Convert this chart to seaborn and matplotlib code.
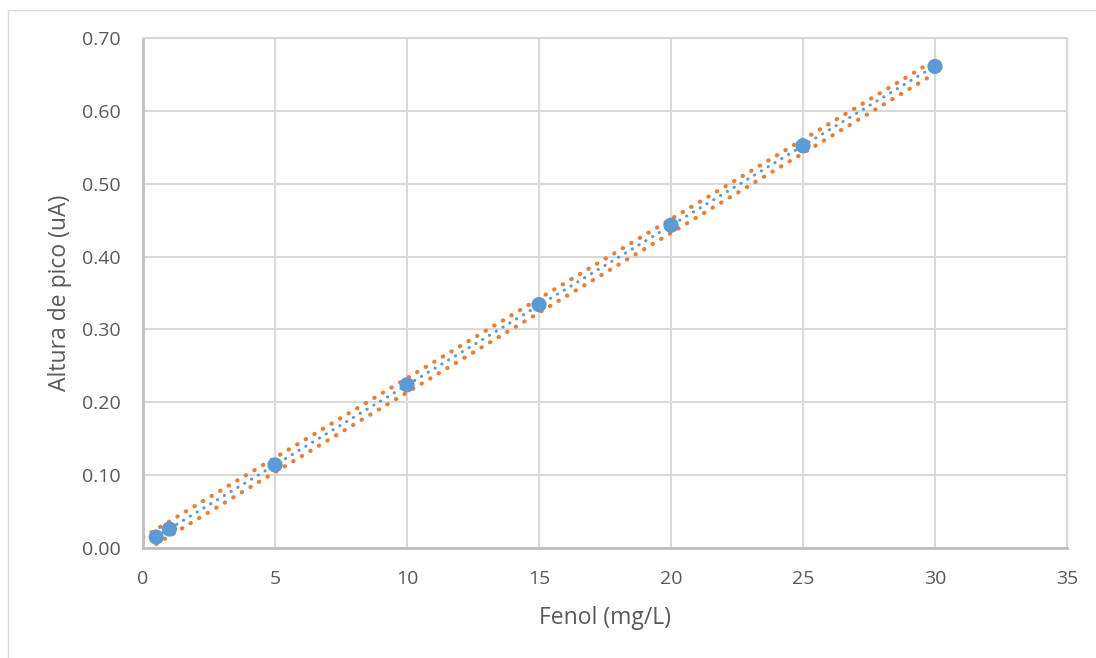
import numpy as np
import pandas as pd
import matplotlib
matplotlib.use("Agg")
import matplotlib.pyplot as plt
import seaborn as sns
from matplotlib.patches import Rectangle

# ── datos ──────────────────────────────────────────────────────────────
conc = [0.5, 1, 5, 10, 15, 20, 25, 30]
altura = [0.015, 0.026, 0.114, 0.224, 0.334, 0.443, 0.552, 0.661]

# líneas naranjas punteadas
sup_x = [0.0, 29.6]
sup_y = [0.0147, 0.661]
inf_x = [0.5, 29.8]
inf_y = [0.0055, 0.647]

x_ticks = [0, 5, 10, 15, 20, 25, 30, 35]
y_ticks = [0.0, 0.1, 0.2, 0.3, 0.4, 0.5, 0.6, 0.7]

AZUL = "#5B9BD5"
NARANJA = "#ED7D31"
TEXTO = "#595959"
GRID = "#D9D9D9"

sns.set_theme(style="whitegrid")
plt.rcParams["font.family"] = ["Open Sans", "DejaVu Sans"]

df = pd.DataFrame({"conc": conc, "altura": altura})

# tendencia lineal
b, a = np.polyfit(conc, altura, 1)
tend = pd.DataFrame({"x": [conc[0], conc[-1]]})
tend["y"] = a + b * tend["x"]

fig = plt.figure(figsize=(10.96, 6.58), dpi=100)
ax = fig.add_axes([143 / 1096, 1 - 548 / 658, (1067 - 143) / 1096, (548 - 38) / 658])

sns.lineplot(x=sup_x, y=sup_y, ax=ax, color=NARANJA, lw=3.0,
             linestyle=(0, (0.1, 2.3)), dash_capstyle="round", zorder=2)
sns.lineplot(x=inf_x, y=inf_y, ax=ax, color=NARANJA, lw=3.0,
             linestyle=(0, (0.1, 2.3)), dash_capstyle="round", zorder=2)
sns.lineplot(data=tend, x="x", y="y", ax=ax, color=AZUL, lw=2.2,
             linestyle=(0, (0.1, 2.5)), dash_capstyle="round", zorder=3)
sns.scatterplot(data=df, x="conc", y="altura", ax=ax, color=AZUL, s=120,
                edgecolor="none", zorder=4)

ax.set_xlim(0, 35)
ax.set_ylim(0, 0.70)
ax.set_xticks(x_ticks)
ax.set_yticks(y_ticks)
ax.set_yticklabels([f"{v:.2f}" for v in y_ticks])
ax.grid(True, color=GRID, lw=1.5)
ax.set_facecolor("white")

for side in ["top", "right"]:
    ax.spines[side].set_color(GRID)
    ax.spines[side].set_linewidth(1.5)
for side in ["left", "bottom"]:
    ax.spines[side].set_color("#BFBFBF")
    ax.spines[side].set_linewidth(2)

ax.tick_params(axis="both", labelsize=14, colors=TEXTO, length=0, pad=16)
ax.set_xlabel("Fenol (mg/L)", fontsize=16.5, color=TEXTO, labelpad=13)
ax.set_ylabel("Altura de pico (uA)", fontsize=16.5, color=TEXTO, labelpad=7)

# borde del área del gráfico
fig.patches.append(Rectangle((8 / 1096, -0.1), 1.2, 1 - 10 / 658 + 0.1,
                             transform=fig.transFigure, fill=False,
                             edgecolor=GRID, lw=1))

fig.savefig("out.png", dpi=100)
